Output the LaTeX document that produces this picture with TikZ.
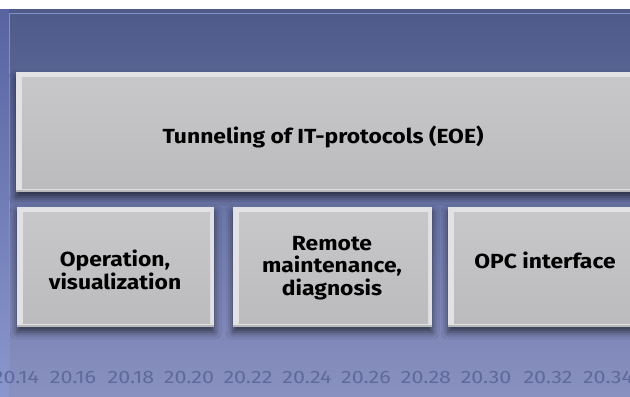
\documentclass[tikz,border=0pt]{standalone}
\usepackage{fontspec}
\setmainfont[FakeStretch=1.12]{Fira Sans}
\newfontfamily\tickfont[FakeStretch=1.2]{Fira Sans}
\usetikzlibrary{shadows.blur}
\definecolor{bgtop}{HTML}{4E5A8A}
\definecolor{bgmid}{HTML}{6A74A6}
\definecolor{bgbot}{HTML}{8991C1}
\definecolor{edgetop}{HTML}{5864A0}
\definecolor{edgebot}{HTML}{8A96CC}
\definecolor{frameline}{HTML}{8290C4}
\definecolor{boxedge}{HTML}{E2E2E4}
\definecolor{boxtop}{HTML}{C8C8CA}
\definecolor{boxbot}{HTML}{BBBBBD}
\definecolor{ticktext}{HTML}{5F6A9C}
\tikzset{
  bevelbox/.style={rectangle, inner sep=0pt, fill=boxedge, draw=none,
    blur shadow={shadow xshift=0bp, shadow yshift=-5bp, shadow blur radius=7bp, shadow opacity=60},
    path picture={
      \shade[top color=boxtop, bottom color=boxbot]
        ([xshift=6bp,yshift=-5bp]path picture bounding box.north west) rectangle
        ([xshift=-4bp,yshift=4bp]path picture bounding box.south east);
      \fill[black,opacity=0.18]
        ([yshift=2bp]path picture bounding box.south west) rectangle
        (path picture bounding box.south east);
    }},
  boxtext/.style={font=\fontsize{20.5}{22.5}\selectfont\bfseries, align=center, text=black, inner sep=0pt},
  tick/.style={font=\tickfont\fontsize{18}{18}\selectfont, text=ticktext, inner sep=0pt}
}
\begin{document}
\begin{tikzpicture}[x=1bp,y=-1bp]
\useasboundingbox (0,0) rectangle (630,396);
% background
\fill[white] (0,0) rectangle (630,10);
\shade[top color=bgtop, bottom color=bgbot, middle color=bgmid] (0,9) rectangle (630,396);
\shade[top color=edgetop, bottom color=edgebot] (0,9) rectangle (9,396);
\draw[frameline, line width=0.8bp] (9.5,396) -- (9.5,13.5) -- (630,13.5);
% boxes
\node[bevelbox, minimum width=624bp, minimum height=120bp, anchor=north west] (top) at (16,72) {};
\node[bevelbox, minimum width=197bp, minimum height=120bp, anchor=north west] (b1) at (17,207) {};
\node[bevelbox, minimum width=199bp, minimum height=120bp, anchor=north west] (b2) at (233,207) {};
\node[bevelbox, minimum width=212bp, minimum height=120bp, anchor=north west] (b3) at (448,207) {};
% texts
\node[boxtext] (ttop) at (323,137) {Tunneling of IT-protocols (EOE)};
\node[boxtext] (t1) at (115,270) {Operation,\\visualization};
\node[boxtext] (t2) at (332,268) {Remote\\maintenance,\\diagnosis};
\node[boxtext] (t3) at (545,260) {OPC interface};
% axis labels
\node[tick] (l14) at (16,378) {20.14};
\node[tick] (l16) at (73,378) {20.16};
\node[tick] (l18) at (131,378) {20.18};
\node[tick] (l20) at (189,378) {20.20};
\node[tick] (l22) at (248,378) {20.22};
\node[tick] (l24) at (307,378) {20.24};
\node[tick] (l26) at (366,378) {20.26};
\node[tick] (l28) at (426,378) {20.28};
\node[tick] (l30) at (486,378) {20.30};
\node[tick] (l32) at (548,378) {20.32};
\node[tick] (l34) at (608,378) {20.34};
\end{tikzpicture}
\end{document}
